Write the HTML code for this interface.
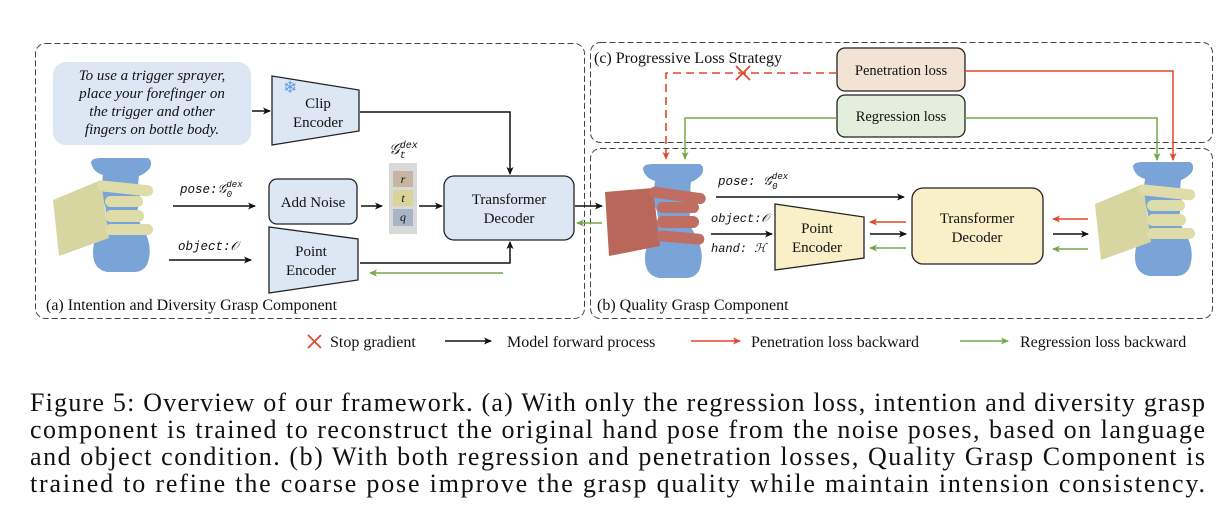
<!DOCTYPE html>
<html><head><meta charset="utf-8"><style>
html,body{margin:0;padding:0;background:#fff;}
svg{display:block;}
text{font-family:"Liberation Serif",serif;fill:#111;}
.it{font-style:italic;}
.m{font-family:"Liberation Mono",monospace;font-style:italic;}
</style></head><body>
<svg width="1228" height="523" viewBox="0 0 1228 523" xmlns="http://www.w3.org/2000/svg">
<defs>
<marker id="ab" markerWidth="8" markerHeight="8" refX="7" refY="4" orient="auto" markerUnits="userSpaceOnUse"><path d="M0,0.5 L8,4 L0,7.5 L2,4 Z" fill="#111"/></marker>
<marker id="ar" markerWidth="8" markerHeight="8" refX="7" refY="4" orient="auto" markerUnits="userSpaceOnUse"><path d="M0,0.5 L8,4 L0,7.5 L2,4 Z" fill="#e0492a"/></marker>
<marker id="ag" markerWidth="8" markerHeight="8" refX="7" refY="4" orient="auto" markerUnits="userSpaceOnUse"><path d="M0,0.5 L8,4 L0,7.5 L2,4 Z" fill="#74a94a"/></marker>
<g id="bottle">
<path d="M38,5 Q38,0 48,0 L95,0 Q100,3 97,10 Q92,16 86,18 Q84,30 88,42 Q80,56 90,70 Q99,86 96,100 Q94,113 82,114 L54,114 Q40,111 40,95 Q40,80 50,68 Q56,56 50,42 Q48,28 50,17 Q40,14 38,5Z" fill="#7aa3d8"/>
</g>
</defs>

<!-- panels -->
<rect x="35.5" y="43.5" width="549" height="275" rx="10" fill="none" stroke="#444" stroke-dasharray="6,3"/>
<rect x="590.5" y="42.5" width="622" height="100" rx="10" fill="none" stroke="#444" stroke-dasharray="6,3"/>
<rect x="590.5" y="148.5" width="622" height="170" rx="10" fill="none" stroke="#444" stroke-dasharray="6,3"/>

<!-- left panel -->
<rect x="53" y="62" width="198" height="83" rx="13" fill="#dde7f4"/>
<g font-size="15" text-anchor="middle">
<text x="152" y="80" class="it">To use a trigger sprayer,</text>
<text x="152" y="98" class="it">place your forefinger on</text>
<text x="152" y="116" class="it">the trigger and other</text>
<text x="152" y="134" class="it">fingers on bottle body.</text>
</g>
<path d="M272,76 L359,90 L359,131 L272,145 Z" fill="#dde7f4" stroke="#222" stroke-width="1.3"/>
<text x="283" y="93" font-size="17" style="fill:#5b9ae6">❄</text>
<text x="318" y="108" font-size="15" text-anchor="middle">Clip</text>
<text x="318" y="127" font-size="15" text-anchor="middle">Encoder</text>
<line x1="252" y1="111" x2="270" y2="111" stroke="#111" stroke-width="1.5" marker-end="url(#ab)"/>
<polyline points="360,112 510,112 510,174" fill="none" stroke="#111" stroke-width="1.5" marker-end="url(#ab)"/>

<!-- left hand -->
<g transform="translate(53,158)">
<use href="#bottle"/>
<path d="M0,42 L48,22 L56,80 L6,98 Z" fill="#d8d6a0"/>
<rect x="45" y="22" width="56" height="11" rx="5.5" fill="#dedca8" transform="rotate(6 45 22)"/>
<rect x="52" y="38" width="38" height="11" rx="5.5" fill="#dedca8"/>
<rect x="52" y="52" width="39" height="12" rx="6" fill="#dedca8"/>
<rect x="52" y="66" width="48" height="11" rx="5.5" fill="#dedca8"/>
</g>

<text x="180" y="193" font-size="12.5" class="m">pose:𝒢<tspan font-size="9" dy="-6">dex</tspan><tspan font-size="9" dx="-16" dy="10">0</tspan></text>
<line x1="173" y1="206" x2="255" y2="206" stroke="#111" stroke-width="1.5" marker-end="url(#ab)"/>
<rect x="269" y="179" width="88" height="45" rx="8" fill="#dde7f4" stroke="#222" stroke-width="1.3"/>
<text x="313" y="207" font-size="15" text-anchor="middle">Add Noise</text>
<line x1="361" y1="206" x2="382" y2="206" stroke="#111" stroke-width="1.5" marker-end="url(#ab)"/>
<text x="389" y="154" font-size="15" class="it">𝒢<tspan font-size="10" class="m" dy="-6">dex</tspan><tspan font-size="10" class="m" dx="-18" dy="10">t</tspan></text>
<rect x="389" y="163" width="28" height="71" fill="#d8dad9"/>
<rect x="393" y="171" width="20" height="16" fill="#c9b4a2"/>
<rect x="393" y="190" width="20" height="16" fill="#d9d49a"/>
<rect x="393" y="209" width="20" height="17" fill="#aab4c9"/>
<text x="403" y="183" font-size="12" text-anchor="middle" class="it">r</text>
<text x="403" y="202" font-size="12" text-anchor="middle" class="it">t</text>
<text x="403" y="221" font-size="12" text-anchor="middle" class="it">q</text>
<line x1="419" y1="206" x2="442" y2="206" stroke="#111" stroke-width="1.5" marker-end="url(#ab)"/>
<rect x="444" y="176" width="130" height="64" rx="10" fill="#dde7f4" stroke="#222" stroke-width="1.3"/>
<text x="509" y="204" font-size="15" text-anchor="middle">Transformer</text>
<text x="509" y="223" font-size="15" text-anchor="middle">Decoder</text>

<text x="178" y="250" font-size="12.5" class="m">object:𝒪</text>
<line x1="169" y1="260" x2="251" y2="260" stroke="#111" stroke-width="1.5" marker-end="url(#ab)"/>
<path d="M269,227 L358,239 L358,280 L269,293 Z" fill="#dde7f4" stroke="#222" stroke-width="1.3"/>
<text x="311" y="256" font-size="15" text-anchor="middle">Point</text>
<text x="311" y="275" font-size="15" text-anchor="middle">Encoder</text>
<polyline points="360,263 510,263 510,242" fill="none" stroke="#111" stroke-width="1.5" marker-end="url(#ab)"/>
<line x1="503" y1="273" x2="370" y2="273" stroke="#74a94a" stroke-width="1.5" marker-end="url(#ag)"/>
<line x1="575" y1="206" x2="602" y2="206" stroke="#111" stroke-width="1.5" marker-end="url(#ab)"/>
<line x1="602" y1="223" x2="577" y2="223" stroke="#74a94a" stroke-width="1.5" marker-end="url(#ag)"/>
<text x="46" y="310" font-size="16">(a) Intention and Diversity Grasp Component</text>

<!-- (c) -->
<text x="594" y="63" font-size="16">(c) Progressive Loss Strategy</text>
<rect x="837" y="48" width="128" height="43" rx="8" fill="#f3e3d5" stroke="#222" stroke-width="1.3"/>
<text x="901" y="75" font-size="14.5" text-anchor="middle">Penetration loss</text>
<rect x="837" y="95" width="128" height="42" rx="8" fill="#e3eedb" stroke="#222" stroke-width="1.3"/>
<text x="901" y="121" font-size="14.5" text-anchor="middle">Regression loss</text>
<polyline points="837,73 666,73 666,159" fill="none" stroke="#e0492a" stroke-width="1.6" stroke-dasharray="8,5" marker-end="url(#ar)"/>
<path d="M736,66 L750,80 M750,66 L736,80" stroke="#e0492a" stroke-width="1.8"/>
<polyline points="837,118 685,118 685,159" fill="none" stroke="#74a94a" stroke-width="1.5" marker-end="url(#ag)"/>
<polyline points="965,71 1173,71 1173,160" fill="none" stroke="#e0492a" stroke-width="1.5" marker-end="url(#ar)"/>
<polyline points="965,118 1157,118 1157,160" fill="none" stroke="#74a94a" stroke-width="1.5" marker-end="url(#ag)"/>

<!-- (b) -->
<g transform="translate(605,164)">
<use href="#bottle"/>
<path d="M0,28 L48,24 L55,82 L4,92 Z" fill="#b9675b"/>
<rect x="45" y="22" width="57" height="11" rx="5.5" fill="#c06e62" transform="rotate(8 45 22)"/>
<rect x="52" y="38" width="42" height="11" rx="5.5" fill="#c06e62"/>
<rect x="52" y="52" width="42" height="12" rx="6" fill="#c06e62"/>
<rect x="52" y="66" width="48" height="11" rx="5.5" fill="#c06e62" transform="rotate(5 52 66)"/>
</g>
<g transform="translate(1095,162)">
<use href="#bottle"/>
<path d="M0,42 L48,22 L56,80 L6,98 Z" fill="#d8d6a0"/>
<rect x="45" y="22" width="56" height="11" rx="5.5" fill="#dedca8" transform="rotate(6 45 22)"/>
<rect x="52" y="38" width="38" height="11" rx="5.5" fill="#dedca8"/>
<rect x="52" y="52" width="39" height="12" rx="6" fill="#dedca8"/>
<rect x="52" y="66" width="48" height="11" rx="5.5" fill="#dedca8"/>
</g>
<text x="718" y="185" font-size="12.5" class="m">pose: 𝒢̂<tspan font-size="9" dy="-6">dex</tspan><tspan font-size="9" dx="-16" dy="10">0</tspan></text>
<line x1="716" y1="197" x2="904" y2="197" stroke="#111" stroke-width="1.5" marker-end="url(#ab)"/>
<text x="711" y="222" font-size="12" class="m">object:𝒪</text>
<text x="711" y="252" font-size="12" class="m">hand: ℋ</text>
<line x1="711" y1="234" x2="772" y2="234" stroke="#111" stroke-width="1.5" marker-end="url(#ab)"/>
<path d="M775,204 L864,217 L864,258 L775,270 Z" fill="#f9efc8" stroke="#222" stroke-width="1.3"/>
<text x="817" y="233" font-size="15" text-anchor="middle">Point</text>
<text x="817" y="252" font-size="15" text-anchor="middle">Encoder</text>
<line x1="906" y1="222" x2="870" y2="222" stroke="#e0492a" stroke-width="1.5" marker-end="url(#ar)"/>
<line x1="870" y1="234" x2="906" y2="234" stroke="#111" stroke-width="1.5" marker-end="url(#ab)"/>
<line x1="906" y1="248" x2="870" y2="248" stroke="#74a94a" stroke-width="1.5" marker-end="url(#ag)"/>
<rect x="912" y="188" width="131" height="76" rx="11" fill="#f9efc8" stroke="#222" stroke-width="1.3"/>
<text x="977" y="223" font-size="15" text-anchor="middle">Transformer</text>
<text x="977" y="242" font-size="15" text-anchor="middle">Decoder</text>
<line x1="1088" y1="219" x2="1053" y2="219" stroke="#e0492a" stroke-width="1.5" marker-end="url(#ar)"/>
<line x1="1053" y1="234" x2="1088" y2="234" stroke="#111" stroke-width="1.5" marker-end="url(#ab)"/>
<line x1="1088" y1="249" x2="1053" y2="249" stroke="#74a94a" stroke-width="1.5" marker-end="url(#ag)"/>
<text x="597" y="310" font-size="16">(b) Quality Grasp Component</text>

<!-- legend -->
<path d="M308,335 L321,348 M321,335 L308,348" stroke="#e0492a" stroke-width="1.8"/>
<text x="330" y="347" font-size="16">Stop gradient</text>
<line x1="445" y1="341" x2="491" y2="341" stroke="#111" stroke-width="1.5" marker-end="url(#ab)"/>
<text x="507" y="347" font-size="16">Model forward process</text>
<line x1="691" y1="341" x2="740" y2="341" stroke="#e0492a" stroke-width="1.5" marker-end="url(#ar)"/>
<text x="751" y="347" font-size="16">Penetration loss backward</text>
<line x1="960" y1="341" x2="1008" y2="341" stroke="#74a94a" stroke-width="1.5" marker-end="url(#ag)"/>
<text x="1020" y="347" font-size="16">Regression loss backward</text>

<!-- caption -->
<g font-size="26">
<text x="30" y="411" textLength="1175" lengthAdjust="spacing">Figure 5:  Overview of our framework. (a) With only the regression loss, intention and diversity grasp</text>
<text x="30" y="438" textLength="1175" lengthAdjust="spacing">component is trained to reconstruct the original hand pose from the noise poses, based on language</text>
<text x="30" y="465" textLength="1175" lengthAdjust="spacing">and object condition. (b) With both regression and penetration losses, Quality Grasp Component is</text>
<text x="30" y="492" textLength="1175" lengthAdjust="spacing">trained to refine the coarse pose improve the grasp quality while maintain intension consistency.</text>
</g>
</svg>
</body></html>
